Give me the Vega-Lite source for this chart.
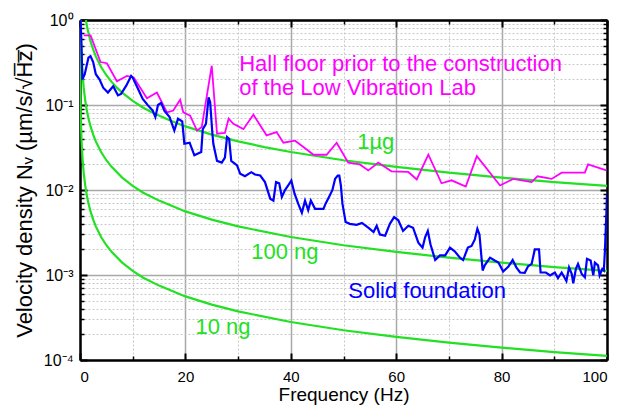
{
  "$schema": "https://vega.github.io/schema/vega-lite/v6.json",
  "width": 527,
  "height": 340,
  "autosize": {"type": "none"},
  "padding": {"left": 80, "top": 20, "right": 16, "bottom": 45},
  "config": {
    "view": {"stroke": null},
    "font": "Liberation Sans",
    "axis": {"labelFont": "Liberation Sans", "titleFont": "Liberation Sans", "domainColor": "black", "tickColor": "black", "labelColor": "black", "titleColor": "black", "titleFontWeight": "normal"}
  },
  "datasets": {
    "green": [
      {"f": 1.12, "v": 1.0, "s": "1 µg"}, {"f": 1.3, "v": 0.86, "s": "1 µg"}, {"f": 1.5, "v": 0.75, "s": "1 µg"}, {"f": 2, "v": 0.56, "s": "1 µg"}, {"f": 2.5, "v": 0.45, "s": "1 µg"}, {"f": 3, "v": 0.373, "s": "1 µg"}, {"f": 4, "v": 0.28, "s": "1 µg"}, {"f": 5, "v": 0.224, "s": "1 µg"}, {"f": 6, "v": 0.187, "s": "1 µg"}, {"f": 7, "v": 0.16, "s": "1 µg"}, {"f": 8, "v": 0.14, "s": "1 µg"}, {"f": 10, "v": 0.112, "s": "1 µg"}, {"f": 12, "v": 0.093, "s": "1 µg"}, {"f": 14, "v": 0.08, "s": "1 µg"}, {"f": 17, "v": 0.066, "s": "1 µg"}, {"f": 20, "v": 0.056, "s": "1 µg"}, {"f": 25, "v": 0.0448, "s": "1 µg"}, {"f": 30, "v": 0.0373, "s": "1 µg"}, {"f": 35, "v": 0.032, "s": "1 µg"}, {"f": 40, "v": 0.028, "s": "1 µg"}, {"f": 50, "v": 0.0224, "s": "1 µg"}, {"f": 60, "v": 0.0187, "s": "1 µg"}, {"f": 70, "v": 0.016, "s": "1 µg"}, {"f": 80, "v": 0.014, "s": "1 µg"}, {"f": 90, "v": 0.0124, "s": "1 µg"}, {"f": 100, "v": 0.0112, "s": "1 µg"},
      {"f": 0.112, "v": 1.0, "s": "100 ng"}, {"f": 0.15, "v": 0.747, "s": "100 ng"}, {"f": 0.2, "v": 0.56, "s": "100 ng"}, {"f": 0.3, "v": 0.373, "s": "100 ng"}, {"f": 0.4, "v": 0.28, "s": "100 ng"}, {"f": 0.5, "v": 0.224, "s": "100 ng"}, {"f": 0.7, "v": 0.16, "s": "100 ng"}, {"f": 1, "v": 0.112, "s": "100 ng"}, {"f": 1.3, "v": 0.086, "s": "100 ng"}, {"f": 1.6, "v": 0.07, "s": "100 ng"}, {"f": 2, "v": 0.056, "s": "100 ng"}, {"f": 2.5, "v": 0.0448, "s": "100 ng"}, {"f": 3, "v": 0.0373, "s": "100 ng"}, {"f": 4, "v": 0.028, "s": "100 ng"}, {"f": 5, "v": 0.0224, "s": "100 ng"}, {"f": 6, "v": 0.0187, "s": "100 ng"}, {"f": 8, "v": 0.014, "s": "100 ng"}, {"f": 10, "v": 0.0112, "s": "100 ng"}, {"f": 12, "v": 0.0093, "s": "100 ng"}, {"f": 15, "v": 0.0075, "s": "100 ng"}, {"f": 20, "v": 0.0056, "s": "100 ng"}, {"f": 25, "v": 0.00448, "s": "100 ng"}, {"f": 30, "v": 0.00373, "s": "100 ng"}, {"f": 40, "v": 0.0028, "s": "100 ng"}, {"f": 50, "v": 0.00224, "s": "100 ng"}, {"f": 60, "v": 0.00187, "s": "100 ng"}, {"f": 70, "v": 0.0016, "s": "100 ng"}, {"f": 80, "v": 0.0014, "s": "100 ng"}, {"f": 90, "v": 0.00124, "s": "100 ng"}, {"f": 100, "v": 0.00112, "s": "100 ng"},
      {"f": 0.0112, "v": 1.0, "s": "10 ng"}, {"f": 0.015, "v": 0.747, "s": "10 ng"}, {"f": 0.02, "v": 0.56, "s": "10 ng"}, {"f": 0.03, "v": 0.373, "s": "10 ng"}, {"f": 0.05, "v": 0.224, "s": "10 ng"}, {"f": 0.07, "v": 0.16, "s": "10 ng"}, {"f": 0.1, "v": 0.112, "s": "10 ng"}, {"f": 0.15, "v": 0.0747, "s": "10 ng"}, {"f": 0.2, "v": 0.056, "s": "10 ng"}, {"f": 0.3, "v": 0.0373, "s": "10 ng"}, {"f": 0.5, "v": 0.0224, "s": "10 ng"}, {"f": 0.7, "v": 0.016, "s": "10 ng"}, {"f": 1, "v": 0.0112, "s": "10 ng"}, {"f": 1.3, "v": 0.0086, "s": "10 ng"}, {"f": 1.6, "v": 0.007, "s": "10 ng"}, {"f": 2, "v": 0.0056, "s": "10 ng"}, {"f": 2.5, "v": 0.00448, "s": "10 ng"}, {"f": 3, "v": 0.00373, "s": "10 ng"}, {"f": 4, "v": 0.0028, "s": "10 ng"}, {"f": 5, "v": 0.00224, "s": "10 ng"}, {"f": 6, "v": 0.00187, "s": "10 ng"}, {"f": 8, "v": 0.0014, "s": "10 ng"}, {"f": 10, "v": 0.00112, "s": "10 ng"}, {"f": 12, "v": 0.00093, "s": "10 ng"}, {"f": 15, "v": 0.00075, "s": "10 ng"}, {"f": 20, "v": 0.00056, "s": "10 ng"}, {"f": 25, "v": 0.000448, "s": "10 ng"}, {"f": 30, "v": 0.000373, "s": "10 ng"}, {"f": 40, "v": 0.00028, "s": "10 ng"}, {"f": 50, "v": 0.000224, "s": "10 ng"}, {"f": 60, "v": 0.000187, "s": "10 ng"}, {"f": 70, "v": 0.00016, "s": "10 ng"}, {"f": 80, "v": 0.00014, "s": "10 ng"}, {"f": 90, "v": 0.000124, "s": "10 ng"}, {"f": 100, "v": 0.000112, "s": "10 ng"}
    ],
    "hall": [
      {"f": 0.7, "v": 0.66}, {"f": 2.0, "v": 0.66}, {"f": 3.9, "v": 0.32}, {"f": 5.1, "v": 0.31}, {"f": 7.0, "v": 0.19}, {"f": 8.9, "v": 0.22}, {"f": 10.2, "v": 0.21}, {"f": 12.7, "v": 0.12}, {"f": 14.6, "v": 0.14}, {"f": 16.5, "v": 0.082}, {"f": 17.7, "v": 0.086}, {"f": 19.0, "v": 0.115}, {"f": 19.6, "v": 0.082}, {"f": 20.9, "v": 0.075}, {"f": 22.2, "v": 0.05}, {"f": 23.1, "v": 0.055}, {"f": 25.0, "v": 0.29}, {"f": 26.0, "v": 0.046}, {"f": 27.5, "v": 0.047}, {"f": 28.2, "v": 0.069}, {"f": 29.1, "v": 0.06}, {"f": 31.0, "v": 0.052}, {"f": 32.9, "v": 0.077}, {"f": 35.4, "v": 0.044}, {"f": 37.3, "v": 0.048}, {"f": 38.6, "v": 0.036}, {"f": 40.8, "v": 0.038}, {"f": 42.4, "v": 0.032}, {"f": 44.3, "v": 0.026}, {"f": 46.8, "v": 0.026}, {"f": 48.7, "v": 0.036}, {"f": 50.9, "v": 0.021}, {"f": 53.1, "v": 0.02}, {"f": 54.7, "v": 0.017}, {"f": 56.6, "v": 0.021}, {"f": 59.1, "v": 0.0166}, {"f": 62.3, "v": 0.0163}, {"f": 63.9, "v": 0.0133}, {"f": 66.1, "v": 0.026}, {"f": 68.6, "v": 0.012}, {"f": 70.5, "v": 0.013}, {"f": 73.2, "v": 0.011}, {"f": 75.3, "v": 0.025}, {"f": 79.7, "v": 0.0113}, {"f": 82.2, "v": 0.0135}, {"f": 85.7, "v": 0.0124}, {"f": 86.8, "v": 0.0145}, {"f": 89.5, "v": 0.0135}, {"f": 91.4, "v": 0.016}, {"f": 95.8, "v": 0.016}, {"f": 96.4, "v": 0.02}, {"f": 99.9, "v": 0.017}
    ],
    "solid": [
      {"f": 0.1, "v": 1.0}, {"f": 0.25, "v": 0.6}, {"f": 0.44, "v": 0.2}, {"f": 0.9, "v": 0.23}, {"f": 1.6, "v": 0.36}, {"f": 2.0, "v": 0.375}, {"f": 2.5, "v": 0.32}, {"f": 3.0, "v": 0.23}, {"f": 3.7, "v": 0.2}, {"f": 4.4, "v": 0.16}, {"f": 5.3, "v": 0.14}, {"f": 6.3, "v": 0.166}, {"f": 7.2, "v": 0.13}, {"f": 7.8, "v": 0.135}, {"f": 8.8, "v": 0.17}, {"f": 9.7, "v": 0.22}, {"f": 10.0, "v": 0.21}, {"f": 11.0, "v": 0.155}, {"f": 11.9, "v": 0.118}, {"f": 12.9, "v": 0.099}, {"f": 13.8, "v": 0.086}, {"f": 14.3, "v": 0.072}, {"f": 14.8, "v": 0.1}, {"f": 15.4, "v": 0.106}, {"f": 16.0, "v": 0.086}, {"f": 17.0, "v": 0.072}, {"f": 17.9, "v": 0.05}, {"f": 18.6, "v": 0.069}, {"f": 19.4, "v": 0.064}, {"f": 19.8, "v": 0.035}, {"f": 20.8, "v": 0.036}, {"f": 21.7, "v": 0.0256}, {"f": 23.0, "v": 0.028}, {"f": 23.3, "v": 0.052}, {"f": 23.9, "v": 0.06}, {"f": 24.4, "v": 0.123}, {"f": 24.7, "v": 0.108}, {"f": 25.1, "v": 0.048}, {"f": 25.3, "v": 0.035}, {"f": 26.0, "v": 0.022}, {"f": 26.9, "v": 0.021}, {"f": 27.5, "v": 0.024}, {"f": 27.9, "v": 0.042}, {"f": 28.3, "v": 0.04}, {"f": 28.7, "v": 0.022}, {"f": 29.8, "v": 0.0195}, {"f": 30.4, "v": 0.0155}, {"f": 31.3, "v": 0.0145}, {"f": 32.5, "v": 0.0162}, {"f": 33.2, "v": 0.0152}, {"f": 34.2, "v": 0.0148}, {"f": 35.1, "v": 0.0124}, {"f": 36.1, "v": 0.0079}, {"f": 36.7, "v": 0.0075}, {"f": 37.2, "v": 0.0124}, {"f": 37.8, "v": 0.012}, {"f": 38.3, "v": 0.0083}, {"f": 38.9, "v": 0.01}, {"f": 39.5, "v": 0.0113}, {"f": 40.1, "v": 0.0129}, {"f": 40.7, "v": 0.0091}, {"f": 41.4, "v": 0.0069}, {"f": 42.1, "v": 0.0054}, {"f": 42.7, "v": 0.0075}, {"f": 43.3, "v": 0.0058}, {"f": 43.8, "v": 0.0075}, {"f": 44.6, "v": 0.006}, {"f": 46.2, "v": 0.006}, {"f": 46.6, "v": 0.0069}, {"f": 47.3, "v": 0.0084}, {"f": 47.9, "v": 0.01}, {"f": 48.4, "v": 0.0135}, {"f": 48.9, "v": 0.0148}, {"f": 49.2, "v": 0.0148}, {"f": 49.5, "v": 0.0113}, {"f": 49.8, "v": 0.0069}, {"f": 50.4, "v": 0.0042}, {"f": 51.2, "v": 0.004}, {"f": 52.5, "v": 0.0039}, {"f": 53.5, "v": 0.0041}, {"f": 54.7, "v": 0.0036}, {"f": 55.7, "v": 0.0032}, {"f": 56.3, "v": 0.0038}, {"f": 56.9, "v": 0.003}, {"f": 57.9, "v": 0.0029}, {"f": 58.8, "v": 0.004}, {"f": 59.6, "v": 0.0048}, {"f": 60.4, "v": 0.0044}, {"f": 61.3, "v": 0.0033}, {"f": 62.3, "v": 0.0038}, {"f": 63.2, "v": 0.0036}, {"f": 64.2, "v": 0.0024}, {"f": 65.0, "v": 0.0021}, {"f": 65.5, "v": 0.0028}, {"f": 66.0, "v": 0.0033}, {"f": 66.5, "v": 0.0023}, {"f": 67.4, "v": 0.0015}, {"f": 68.3, "v": 0.0017}, {"f": 69.3, "v": 0.0017}, {"f": 70.2, "v": 0.0021}, {"f": 71.1, "v": 0.0019}, {"f": 72.1, "v": 0.0016}, {"f": 72.7, "v": 0.0015}, {"f": 73.6, "v": 0.0021}, {"f": 74.3, "v": 0.0022}, {"f": 74.9, "v": 0.0026}, {"f": 75.4, "v": 0.0035}, {"f": 75.8, "v": 0.003}, {"f": 76.4, "v": 0.00113}, {"f": 76.8, "v": 0.0013}, {"f": 77.8, "v": 0.0016}, {"f": 78.7, "v": 0.00148}, {"f": 79.4, "v": 0.0014}, {"f": 80.3, "v": 0.0011}, {"f": 81.3, "v": 0.00126}, {"f": 82.1, "v": 0.0015}, {"f": 82.8, "v": 0.00123}, {"f": 83.5, "v": 0.00107}, {"f": 84.4, "v": 0.00106}, {"f": 85.0, "v": 0.00126}, {"f": 85.7, "v": 0.00135}, {"f": 86.3, "v": 0.002}, {"f": 87.1, "v": 0.002}, {"f": 87.4, "v": 0.00107}, {"f": 88.4, "v": 0.00107}, {"f": 89.2, "v": 0.00099}, {"f": 90.1, "v": 0.00107}, {"f": 90.7, "v": 0.00092}, {"f": 91.4, "v": 0.00107}, {"f": 92.3, "v": 0.00085}, {"f": 92.8, "v": 0.00123}, {"f": 93.3, "v": 0.00103}, {"f": 93.6, "v": 0.0008}, {"f": 94.1, "v": 0.00118}, {"f": 94.5, "v": 0.00135}, {"f": 95.2, "v": 0.00103}, {"f": 95.8, "v": 0.00094}, {"f": 96.2, "v": 0.00155}, {"f": 96.9, "v": 0.00148}, {"f": 97.4, "v": 0.00099}, {"f": 97.7, "v": 0.0014}, {"f": 98.3, "v": 0.0013}, {"f": 98.6, "v": 0.00099}, {"f": 99.1, "v": 0.00118}, {"f": 99.4, "v": 0.00113}, {"f": 99.6, "v": 0.0019}, {"f": 99.9, "v": 0.0057}, {"f": 100, "v": 0.009}
    ],
    "labels": [
      {"t": "Hall floor prior to the construction", "f": 30.2, "v": 0.307, "s": "Hall floor"},
      {"t": "of the Low Vibration Lab", "f": 30.2, "v": 0.16, "s": "Hall floor"},
      {"t": "1µg", "f": 52.6, "v": 0.037, "s": "1 µg"},
      {"t": "100 ng", "f": 32.5, "v": 0.00184, "s": "100 ng"},
      {"t": "10 ng", "f": 21.9, "v": 0.000247, "s": "10 ng"},
      {"t": "Solid foundation", "f": 50.9, "v": 0.00064, "s": "Solid foundation"}
    ]
  },
  "resolve": {"axis": {"x": "independent", "y": "independent"}},
  "layer": [
    {
      "data": {"name": "green"},
      "mark": {"type": "line", "strokeWidth": 2.2, "clip": true},
      "encoding": {
        "x": {"field": "f", "type": "quantitative", "scale": {"domain": [0, 100], "nice": false, "zero": false},
          "axis": {"orient": "bottom", "values": [10, 30, 50, 70, 90], "grid": true, "gridColor": "#c8c8c8", "gridDash": [2, 2], "gridWidth": 1, "labels": false, "ticks": true, "tickSize": -4, "tickWidth": 1.5, "domain": false, "title": null, "zindex": 0}},
        "y": {"field": "v", "type": "quantitative", "scale": {"type": "log", "domain": [0.0001, 1], "nice": false},
          "axis": {"orient": "left", "values": [0.0002, 0.0003, 0.0004, 0.0005, 0.0006, 0.0007, 0.0008, 0.0009, 0.002, 0.003, 0.004, 0.005, 0.006, 0.007, 0.008, 0.009, 0.02, 0.03, 0.04, 0.05, 0.06, 0.07, 0.08, 0.09, 0.2, 0.3, 0.4, 0.5, 0.6, 0.7, 0.8, 0.9], "grid": true, "gridColor": "#c8c8c8", "gridDash": [2, 2], "gridWidth": 1, "labels": false, "ticks": true, "tickSize": -4, "tickWidth": 1.5, "domain": false, "title": null, "zindex": 0}},
        "detail": {"field": "s"},
        "color": {"field": "s", "type": "nominal", "legend": null, "scale": {"domain": ["1 µg", "100 ng", "10 ng", "Hall floor", "Solid foundation"], "range": ["#22e022", "#22e022", "#22e022", "#ff00ff", "#0000ff"]}}
      }
    },
    {
      "data": {"name": "hall"},
      "mark": {"type": "line", "strokeWidth": 1.8, "color": "#ff00ff", "clip": true},
      "encoding": {
        "x": {"field": "f", "type": "quantitative", "scale": {"domain": [0, 100], "nice": false, "zero": false},
          "axis": {"orient": "bottom", "values": [0, 20, 40, 60, 80, 100], "grid": true, "gridColor": "#a8a8a8", "gridWidth": 1.5, "tickSize": -7, "tickWidth": 2, "labelFontSize": 15, "labelPadding": 16, "domain": true, "domainWidth": 2.5, "title": "Frequency (Hz)", "titleFontSize": 19, "titlePadding": 1, "zindex": 0}},
        "y": {"field": "v", "type": "quantitative", "scale": {"type": "log", "domain": [0.0001, 1], "nice": false},
          "axis": {"orient": "left", "values": [0.0001, 0.001, 0.01, 0.1, 1], "labelExpr": "datum.value >= 0.5 ? '10⁰' : datum.value >= 0.05 ? '10⁻¹' : datum.value >= 0.005 ? '10⁻²' : datum.value >= 0.0005 ? '10⁻³' : '10⁻⁴'", "grid": true, "gridColor": "#a8a8a8", "gridWidth": 1.5, "tickSize": -7, "tickWidth": 2, "labelFontSize": 16, "labelPadding": 14, "domain": true, "domainWidth": 2.5, "title": "Velocity density Nᵥ (µm/s/√H̅z̅)", "titleFontSize": 22, "titlePadding": 7, "zindex": 0}}
      }
    },
    {
      "data": {"name": "solid"},
      "mark": {"type": "line", "strokeWidth": 2.2, "color": "#0000ff", "clip": true},
      "encoding": {
        "x": {"field": "f", "type": "quantitative", "scale": {"domain": [0, 100], "nice": false, "zero": false},
          "axis": {"orient": "top", "values": [10, 30, 50, 70, 90], "grid": false, "labels": false, "tickSize": -4, "tickWidth": 1.5, "domain": true, "domainWidth": 2.5, "title": null}},
        "y": {"field": "v", "type": "quantitative", "scale": {"type": "log", "domain": [0.0001, 1], "nice": false},
          "axis": {"orient": "right", "values": [0.0002, 0.0003, 0.0004, 0.0005, 0.0006, 0.0007, 0.0008, 0.0009, 0.002, 0.003, 0.004, 0.005, 0.006, 0.007, 0.008, 0.009, 0.02, 0.03, 0.04, 0.05, 0.06, 0.07, 0.08, 0.09, 0.2, 0.3, 0.4, 0.5, 0.6, 0.7, 0.8, 0.9], "grid": false, "labels": false, "tickSize": -4, "tickWidth": 1.5, "domain": true, "domainWidth": 2.5, "title": null}}
      }
    },
    {
      "data": {"name": "labels"},
      "mark": {"type": "text", "align": "left", "baseline": "middle", "fontSize": 22, "font": "Liberation Sans"},
      "encoding": {
        "x": {"field": "f", "type": "quantitative", "scale": {"domain": [0, 100], "nice": false, "zero": false},
          "axis": {"orient": "top", "values": [0, 20, 40, 60, 80, 100], "grid": false, "labels": false, "tickSize": -7, "tickWidth": 2, "domain": false, "title": null}},
        "y": {"field": "v", "type": "quantitative", "scale": {"type": "log", "domain": [0.0001, 1], "nice": false},
          "axis": {"orient": "right", "values": [0.0001, 0.001, 0.01, 0.1, 1], "grid": false, "labels": false, "tickSize": -7, "tickWidth": 2, "domain": false, "title": null}},
        "text": {"field": "t"},
        "color": {"field": "s", "type": "nominal", "legend": null, "scale": {"domain": ["1 µg", "100 ng", "10 ng", "Hall floor", "Solid foundation"], "range": ["#22e022", "#22e022", "#22e022", "#ff00ff", "#0000ff"]}}
      }
    }
  ]
}
